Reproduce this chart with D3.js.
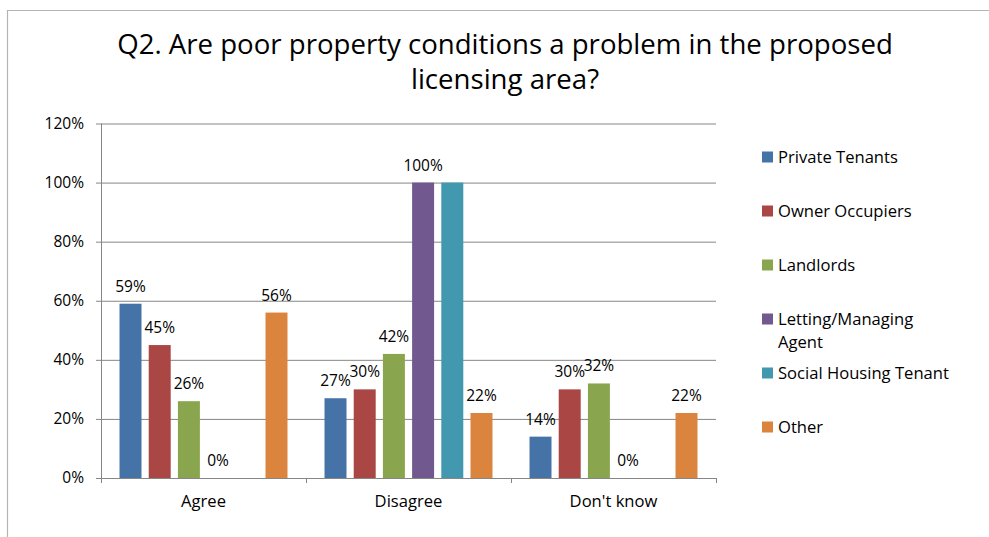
<!DOCTYPE html>
<html>
<head>
<meta charset="utf-8">
<script src="https://cdn.jsdelivr.net/npm/d3@7"></script>
<style>
  html, body { margin: 0; padding: 0; background: #fff; }
  svg { display: block; font-family: "Open Sans", "Noto Sans", sans-serif; }
</style>
</head>
<body>
<svg id="chart" width="989" height="537"></svg>
<script>
// Survey responses by respondent group (share of each group)
const categories = ["Agree", "Disagree", "Don't know"];
const seriesNames = ["Private Tenants", "Owner Occupiers", "Landlords",
                     "Letting/Managing Agent", "Social Housing Tenant", "Other"];
const privateTenants   = [0.59, 0.27, 0.14];
const ownerOccupiers   = [0.45, 0.30, 0.30];
const landlords        = [0.26, 0.42, 0.32];
const lettingAgents    = [0.00, 1.00, 0.00];
const socialHousing    = [null, 1.00, null];
const other            = [0.56, 0.22, 0.22];
const seriesValues = [privateTenants, ownerOccupiers, landlords, lettingAgents, socialHousing, other];
// Series whose bars carry a value label
const showLabels = [true, true, true, true, false, true];
const legendLines = [["Private Tenants"], ["Owner Occupiers"], ["Landlords"],
                     ["Letting/Managing", "Agent"], ["Social Housing Tenant"], ["Other"]];
const yTicks = [0, 0.2, 0.4, 0.6, 0.8, 1.0, 1.2];
const titleLines = ["Q2. Are poor property conditions a problem in the proposed", "licensing area?"];
const colors = ["#4572A7", "#AA4643", "#89A54E", "#71588F", "#4198AF", "#DB843D"];

const svg = d3.select("#chart");
const plot = { left: 101, right: 716, top: 123.5, bottom: 478 };
const gridColor = "#868686";
const numSize = 15.5;
const textSize = 16.6;

// Chart frame
svg.append("path")
  .attr("d", "M7.5,537 V10.5 H989")
  .attr("fill", "none").attr("stroke", "#b4b4b4").attr("stroke-width", 1.2);

// Title
svg.append("g").selectAll("text").data(titleLines).join("text")
  .attr("x", 505).attr("y", (d, i) => 54 + i * 35)
  .attr("text-anchor", "middle")
  .attr("font-size", 27.6).attr("fill", "#000")
  .text(d => d);

const x0 = d3.scaleBand().domain(categories).range([plot.left, plot.right]).padding(0);
const x1 = d3.scaleBand().domain(seriesNames).range([0, x0.bandwidth()])
  .paddingInner(0.247).paddingOuter(0.634);
const y = d3.scaleLinear().domain([0, 1.2]).range([plot.bottom, plot.top]);

// Horizontal gridlines with left tick marks
const yAxis = d3.axisLeft(y).tickValues(yTicks).tickFormat(d3.format(".0%"))
  .tickSize(-(plot.right - plot.left)).tickPadding(17);
const gy = svg.append("g").attr("transform", `translate(${plot.left},0)`).call(yAxis);
gy.select(".domain").remove();
gy.selectAll(".tick line").attr("stroke", gridColor).attr("x1", -5);
gy.selectAll(".tick text").attr("font-size", numSize).attr("fill", "#000")
  .attr("font-family", "'Open Sans', sans-serif");

// Vertical value axis line
svg.append("line")
  .attr("x1", plot.left + 0.5).attr("x2", plot.left + 0.5)
  .attr("y1", plot.top).attr("y2", plot.bottom)
  .attr("stroke", gridColor);

// Category axis
const catTicks = [plot.left, ...categories.map(c => x0(c) + x0.bandwidth())];
svg.append("g").selectAll("line").data(catTicks).join("line")
  .attr("x1", d => Math.round(d) + 0.5).attr("x2", d => Math.round(d) + 0.5)
  .attr("y1", plot.bottom).attr("y2", plot.bottom + 5)
  .attr("stroke", gridColor);
svg.append("line")
  .attr("x1", plot.left).attr("x2", plot.right)
  .attr("y1", plot.bottom + 0.5).attr("y2", plot.bottom + 0.5)
  .attr("stroke", gridColor);
svg.append("g").selectAll("text").data(categories).join("text")
  .attr("x", d => x0(d) + x0.bandwidth() / 2).attr("y", 507)
  .attr("text-anchor", "middle").attr("font-size", textSize).attr("fill", "#000")
  .text(d => d);

// Bars
const barData = [];
seriesNames.forEach((s, si) => {
  categories.forEach((c, ci) => {
    const v = seriesValues[si][ci];
    if (v !== null) barData.push({ s, si, c, v });
  });
});
svg.append("g").selectAll("rect").data(barData).join("rect")
  .attr("x", d => x0(d.c) + x1(d.s))
  .attr("width", x1.bandwidth())
  .attr("y", d => y(d.v))
  .attr("height", d => y(0) - y(d.v))
  .attr("fill", d => colors[d.si]);

// Value labels
svg.append("g").selectAll("text").data(barData.filter(d => showLabels[d.si])).join("text")
  .attr("x", d => x0(d.c) + x1(d.s) + x1.bandwidth() / 2)
  .attr("y", d => y(d.v) - 12)
  .attr("text-anchor", "middle").attr("font-size", numSize).attr("fill", "#000")
  .text(d => d3.format(".0%")(d.v));

// Legend
const legend = svg.append("g").attr("transform", "translate(762,0)");
const item = legend.selectAll("g").data(seriesNames).join("g")
  .attr("transform", (d, i) => `translate(0,${157 + i * 54})`);
item.append("rect").attr("x", 0).attr("y", -5.5).attr("width", 11).attr("height", 11)
  .attr("fill", (d, i) => colors[i]);
item.append("text").attr("x", 16).attr("font-size", textSize).attr("fill", "#000")
  .selectAll("tspan").data((d, i) => legendLines[i]).join("tspan")
  .attr("x", 16).attr("y", (d, j) => 5.5 + j * 23)
  .text(d => d);
</script>
</body>
</html>
